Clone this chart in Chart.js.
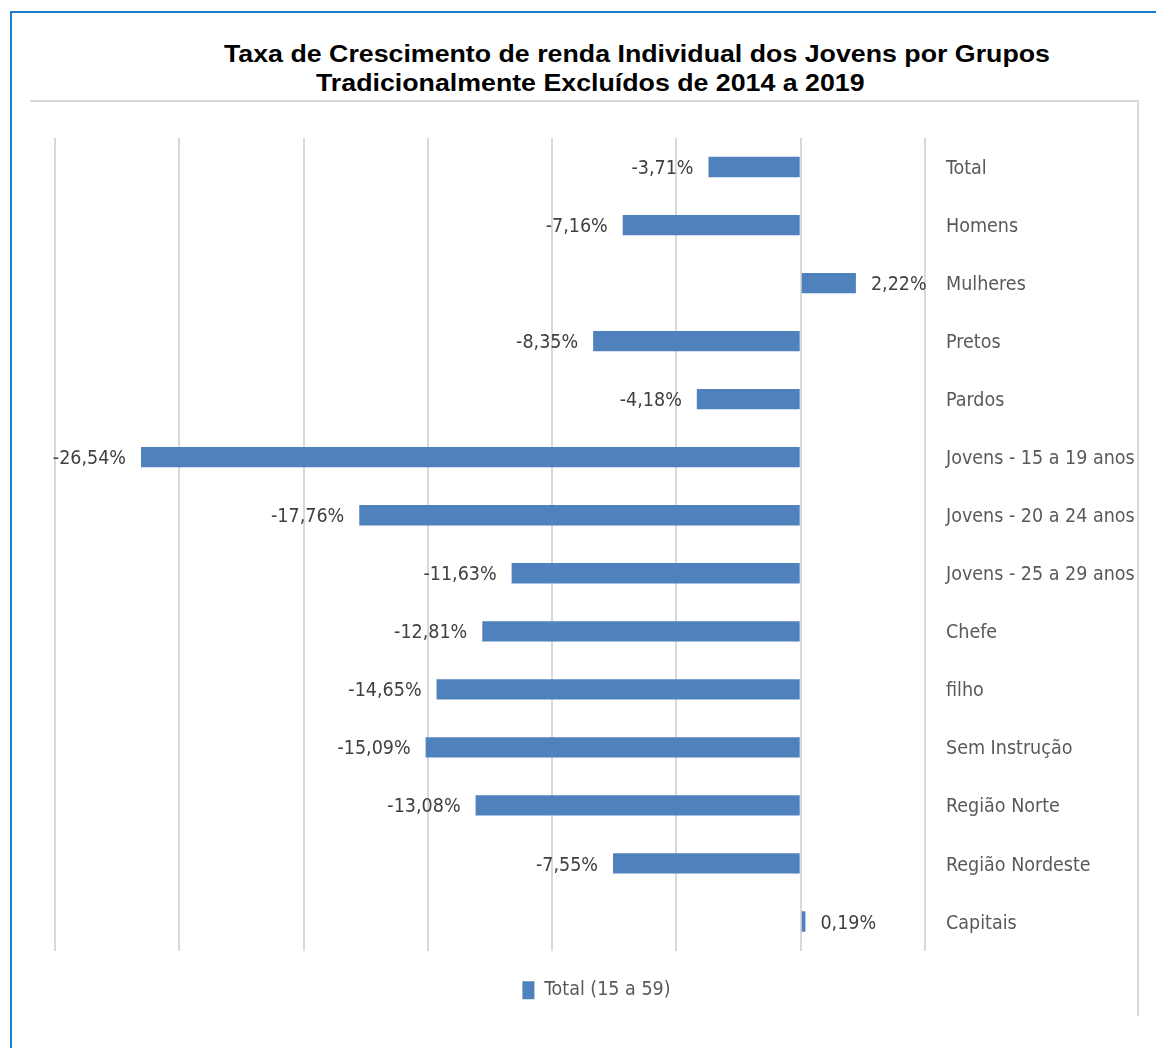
<!DOCTYPE html>
<html>
<head>
<meta charset="utf-8">
<script src="https://cdn.jsdelivr.net/npm/chart.js@4"></script>
<style>
  body { margin: 0; background: #fff; }
  #frameTop { position: absolute; left: 10px; top: 11px; width: 1146px; height: 2px; background: #1d7ccf; }
  #frameLeft { position: absolute; left: 10px; top: 11px; width: 2px; height: 1037px; background: #1d7ccf; }
  #boxTop { position: absolute; left: 30px; top: 100px; width: 1109px; height: 2px; background: #d9d9d9; }
  #boxRight { position: absolute; left: 1137px; top: 100px; width: 2px; height: 916px; background: #d9d9d9; }
  .title { position: absolute; font: bold 23px 'Liberation Sans', Arial, sans-serif; color: #000;
           white-space: nowrap; transform-origin: 0 0; transform: scaleX(1.163); }
  #wrap { position: absolute; left: 30px; top: 102px; width: 1108px; height: 908px; }
</style>
</head>
<body>
<div id="frameTop"></div>
<div id="frameLeft"></div>
<div id="boxTop"></div>
<div id="boxRight"></div>
<div class="title" style="left:224px; top:41px;">Taxa de Crescimento de renda Individual dos Jovens por Grupos</div>
<div class="title" style="left:316px; top:70px;">Tradicionalmente Excluídos de 2014 a 2019</div>
<div id="wrap"><canvas id="growthChart"></canvas></div>
<script>
const categories = ['Total', 'Homens', 'Mulheres', 'Pretos', 'Pardos',
  'Jovens - 15 a 19 anos', 'Jovens - 20 a 24 anos', 'Jovens - 25 a 29 anos',
  'Chefe', 'filho', 'Sem Instrução', 'Região Norte', 'Região Nordeste', 'Capitais'];
const growthRates = [-3.71, -7.16, 2.22, -8.35, -4.18, -26.54, -17.76, -11.63,
  -12.81, -14.65, -15.09, -13.08, -7.55, 0.19];
const seriesName = 'Total (15 a 59)';

const narrow = "'Liberation Sans Narrow', 'DejaVu Sans Condensed', sans-serif";

// value labels beside each bar, comma as decimal sign
const valueLabels = {
  id: 'valueLabels',
  afterDatasetsDraw(chart) {
    const c = chart.ctx;
    const meta = chart.getDatasetMeta(0);
    c.save();
    c.font = '19.5px ' + narrow;
    c.fillStyle = '#404040';
    c.textBaseline = 'middle';
    meta.data.forEach((bar, i) => {
      const v = growthRates[i];
      const txt = v.toFixed(2).replace('.', ',') + '%';
      if (v < 0) {
        c.textAlign = 'right';
        c.fillText(txt, bar.x - 15, bar.y + 2);
      } else {
        c.textAlign = 'left';
        c.fillText(txt, bar.x + 15, bar.y + 2);
      }
    });
    c.restore();
  }
};

const ctx = document.getElementById('growthChart').getContext('2d');
new Chart(ctx, {
  type: 'bar',
  data: {
    labels: categories,
    datasets: [{
      label: seriesName,
      data: growthRates,
      backgroundColor: '#4f81bd',
      barPercentage: 0.35,
      categoryPercentage: 1
    }]
  },
  options: {
    indexAxis: 'y',
    responsive: true,
    maintainAspectRatio: false,
    animation: false,
    layout: { padding: { left: 25, top: 36, right: 0, bottom: 0 } },
    scales: {
      x: {
        min: -30,
        max: 5,
        ticks: { display: false, stepSize: 5 },
        grid: { color: '#d9d9d9', lineWidth: 2, drawTicks: false },
        border: { display: false }
      },
      y: {
        position: 'right',
        grid: { display: false, drawTicks: false },
        border: { display: false },
        ticks: {
          crossAlign: 'near',
          padding: 21,
          labelOffset: 2,
          color: '#595959',
          font: { family: narrow, size: 19.5 }
        },
        afterFit(scale) { scale.width = 213; }
      }
    },
    plugins: {
      tooltip: { enabled: false },
      legend: {
        position: 'bottom',
        labels: {
          boxWidth: 12,
          boxHeight: 18,
          padding: 30,
          color: '#595959',
          font: { family: narrow, size: 19.5 }
        }
      }
    }
  },
  plugins: [valueLabels]
});
</script>
</body>
</html>
